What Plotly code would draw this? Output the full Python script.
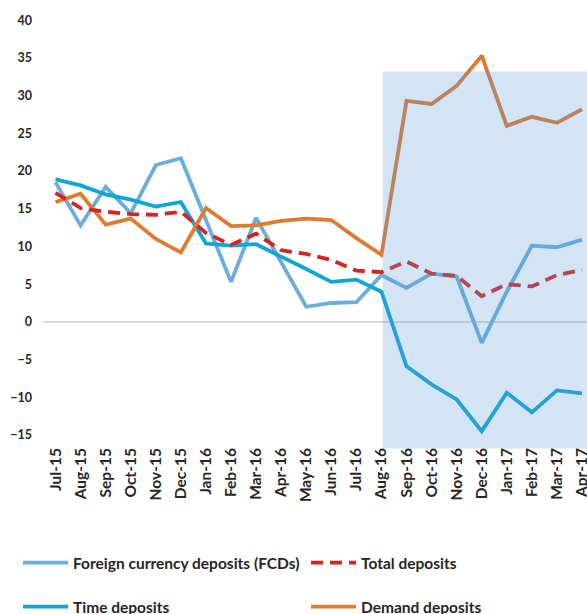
import plotly.graph_objects as go

months = ["Jul-15", "Aug-15", "Sep-15", "Oct-15", "Nov-15", "Dec-15",
          "Jan-16", "Feb-16", "Mar-16", "Apr-16", "May-16", "Jun-16",
          "Jul-16", "Aug-16", "Sep-16", "Oct-16", "Nov-16", "Dec-16",
          "Jan-17", "Feb-17", "Mar-17", "Apr-17"]

fcd = [18.5, 12.8, 17.9, 14.4, 20.8, 21.7, 13.5, 5.3, 13.8, 8.0, 2.0,
       2.5, 2.6, 6.2, 4.5, 6.4, 6.0, -2.8, 4.0, 10.1, 9.9, 10.9]
total = [17.1, 15.1, 14.6, 14.3, 14.2, 14.6, 11.8, 10.2, 11.7, 9.5, 9.0,
         8.2, 6.8, 6.6, 8.0, 6.4, 6.1, 3.4, 5.0, 4.7, 6.2, 6.9]
time_dep = [18.9, 18.1, 16.9, 16.2, 15.3, 15.9, 10.4, 10.1, 10.3, 8.7, 7.0,
            5.3, 5.6, 4.0, -5.9, -8.3, -10.3, -14.5, -9.4, -12.0, -9.1, -9.5]
demand = [15.9, 17.0, 12.9, 13.7, 11.0, 9.2, 15.1, 12.7, 12.8, 13.4, 13.7,
          13.5, 11.1, 8.9, 29.3, 28.9, 31.3, 35.3, 26.0, 27.2, 26.4, 28.2]

shade_start = "Aug-16"
shade_top = 33.2
y_tick_vals = [-15, -10, -5, 0, 5, 10, 15, 20, 25, 30, 35, 40]

FONT = "Lato, Carlito, Calibri, sans-serif"
TXT = "#262626"
W, H = 587, 614

fig = go.Figure()
fig.add_trace(go.Scatter(x=months, y=fcd, mode="lines", name="Foreign currency deposits (FCDs)",
                         line=dict(color="#6BAEDD", width=3.8), legend="legend"))
fig.add_trace(go.Scatter(x=months, y=time_dep, mode="lines", name="Time deposits",
                         line=dict(color="#10A5D5", width=3.8), legend="legend3"))
fig.add_trace(go.Scatter(x=months, y=demand, mode="lines", name="Demand deposits",
                         line=dict(color="#DF7A30", width=3.8), legend="legend4"))
fig.add_trace(go.Scatter(x=months, y=total, mode="lines", name="Total deposits",
                         line=dict(color="#D42525", width=3.8, dash="12px,7px"), legend="legend2"))

si = months.index(shade_start)
fig.add_shape(type="rect", xref="x", yref="y", x0=si + 0.05, x1=len(months) + 1,
              y0=-16.8, y1=shade_top, fillcolor="rgba(91,155,213,0.27)",
              line=dict(width=0), layer="above")


def leg(x, y):
    return dict(orientation="h", xref="container", yref="container",
                x=x / W, y=1 - y / H, xanchor="left", yanchor="middle",
                bgcolor="rgba(0,0,0,0)", itemwidth=45,
                font=dict(family=FONT, size=15.5, color=TXT, weight="bold"))


fig.update_layout(
    width=W, height=H,
    margin=dict(l=42.5, r=0, t=11.7, b=163.6),
    plot_bgcolor="white", paper_bgcolor="white",
    showlegend=True,
    legend=leg(18, 563),
    legend2=leg(306, 563),
    legend3=leg(18, 607),
    legend4=leg(306, 607),
    xaxis=dict(type="category", categoryarray=months, range=[-0.5, 21.2],
               showgrid=False, zeroline=False, showline=False, ticks="",
               tickangle=-90, automargin=False, ticklabelstandoff=-6,
               tickfont=dict(family=FONT, size=15.5, color=TXT, weight="bold")),
    yaxis=dict(range=[-17, 41.1], tickvals=y_tick_vals, showgrid=False,
               zeroline=True, zerolinecolor="#D9D9D9", zerolinewidth=1.5,
               showline=False, ticks="", automargin=False, ticklabelstandoff=10,
               tickfont=dict(family=FONT, size=12.5, color=TXT, weight="bold")),
)

fig.write_html(
    "out.html",
    config={"displayModeBar": False},
    post_script="document.body.style.margin='0';document.body.style.overflow='hidden';",
)
